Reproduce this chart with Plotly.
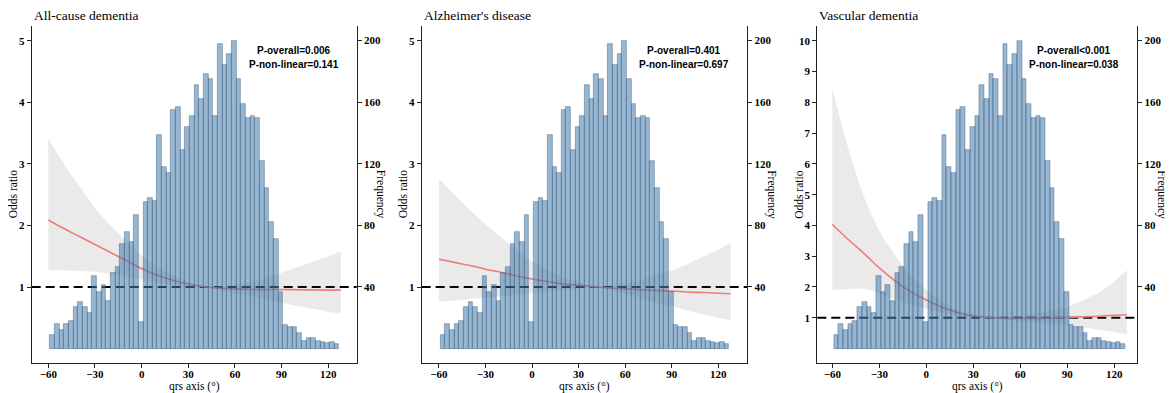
import plotly.graph_objects as go

# ---------------- data ----------------
# histogram of QRS axis (same distribution in all panels)
bin_centers = [-57.5, -54.5, -51.5, -48.5, -45.5, -42.5, -39.5, -36.5, -33.5, -30.5,
               -27.5, -24.5, -21.5, -18.5, -15.5, -12.5, -9.5, -6.5, -3.5, -0.5,
               2.5, 5.5, 8.5, 11.5, 14.5, 17.5, 20.5, 23.5, 26.5, 29.5,
               32.5, 35.5, 38.5, 41.5, 44.5, 47.5, 50.5, 53.5, 56.5, 59.5,
               62.5, 65.5, 68.5, 71.5, 74.5, 77.5, 80.5, 83.5, 86.5, 89.5,
               92.5, 95.5, 98.5, 101.5, 104.5, 107.5, 110.5, 113.5, 116.5, 119.5,
               122.5, 125.5]
frequency = [9, 16, 12, 16, 18, 27, 30, 27, 23, 47,
             37, 41, 31, 49, 53, 68, 76, 69, 87, 17,
             95, 98, 96, 139, 118, 114, 155, 157, 129, 144,
             151, 171, 162, 178, 175, 151, 198, 184, 191, 200,
             175, 159, 150, 151, 150, 122, 104, 82, 71, 37,
             15, 14, 14, 10, 5, 7, 7, 5, 4, 3.5,
             4, 3]

# restricted cubic spline estimates (odds ratio and 95% CI)
qrs_grid = [-60, -50, -40, -30, -20, -10, 0, 10, 20, 30, 42, 50, 60, 70, 80, 90, 100, 110, 120, 128]

or_allcause = [2.09, 1.95, 1.82, 1.69, 1.56, 1.43, 1.30, 1.19, 1.11, 1.05, 1.00, 0.98, 0.97, 0.96, 0.96, 0.96, 0.955, 0.953, 0.95, 0.95]
lo_allcause = [1.28, 1.27, 1.26, 1.25, 1.21, 1.17, 1.12, 1.07, 1.03, 1.01, 1.00, 0.95, 0.90, 0.85, 0.80, 0.75, 0.69, 0.65, 0.60, 0.57]
hi_allcause = [3.41, 3.00, 2.64, 2.28, 2.00, 1.75, 1.51, 1.33, 1.19, 1.09, 1.00, 1.01, 1.04, 1.08, 1.15, 1.23, 1.32, 1.41, 1.50, 1.58]

or_ad = [1.45, 1.40, 1.35, 1.29, 1.24, 1.18, 1.13, 1.09, 1.05, 1.03, 1.00, 0.985, 0.97, 0.955, 0.945, 0.935, 0.92, 0.91, 0.90, 0.89]
lo_ad = [0.76, 0.78, 0.81, 0.82, 0.85, 0.87, 0.90, 0.93, 0.95, 0.98, 1.00, 0.946, 0.89, 0.82, 0.75, 0.69, 0.62, 0.56, 0.50, 0.46]
hi_ad = [2.76, 2.50, 2.25, 2.02, 1.81, 1.59, 1.42, 1.28, 1.16, 1.08, 1.00, 1.025, 1.06, 1.11, 1.19, 1.27, 1.37, 1.49, 1.61, 1.72]

or_vd = [4.03, 3.55, 3.10, 2.62, 2.20, 1.85, 1.58, 1.34, 1.17, 1.06, 1.00, 0.98, 0.975, 0.98, 0.99, 1.01, 1.03, 1.05, 1.08, 1.10]
lo_vd = [1.92, 1.93, 1.94, 1.79, 1.60, 1.43, 1.29, 1.17, 1.07, 1.02, 1.00, 0.94, 0.89, 0.84, 0.79, 0.75, 0.68, 0.61, 0.54, 0.47]
hi_vd = [8.45, 6.53, 4.96, 3.83, 3.03, 2.40, 1.93, 1.54, 1.28, 1.10, 1.00, 1.02, 1.07, 1.14, 1.23, 1.36, 1.57, 1.82, 2.18, 2.55]

titles = ["All-cause dementia", "Alzheimer's disease", "Vascular dementia"]
p_overall = ["P-overall=0.006", "P-overall=0.401", "P-overall<0.001"]
p_nonlinear = ["P-non-linear=0.141", "P-non-linear=0.697", "P-non-linear=0.038"]

x_ticks = [-60, -30, 0, 30, 60, 90, 120]
or_ticks = [[1, 2, 3, 4, 5], [1, 2, 3, 4, 5], [1, 2, 3, 4, 5, 6, 7, 8, 9, 10]]
freq_ticks = [40, 80, 120, 160, 200]

# ---------------- layout geometry (pixels of the 1173x393 page) ----------------
PAGE_W, PAGE_H = 1173, 393
OFF = 8  # page body margin
W, H = PAGE_W - OFF, PAGE_H - OFF
panel_px = [(31.7, 356.7), (421.7, 747.3), (817.3, 1137.3)]
x_ranges = [[-70.7, 138.3], [-71.1, 138.7], [-69.6, 134.7]]
or_ranges = [[-0.234, 5.24], [-0.234, 5.24], [-0.47, 10.48]]
freq_range = [-9.4, 209.5]
top_px, bot_px = 26, 363


def xp(px):
    return (px - OFF) / W


def yp(py):
    return 1 - (py - OFF) / H


serif = "Liberation Serif"
sans = "Liberation Sans"

series = [(or_allcause, lo_allcause, hi_allcause),
          (or_ad, lo_ad, hi_ad),
          (or_vd, lo_vd, hi_vd)]

fig = go.Figure()
layout = {}
annotations = []
shapes = []

for i in range(3):
    xa = "x" if i == 0 else f"x{i + 1}"
    ya = "y" if i == 0 else f"y{i + 1}"
    yf = f"y{i + 4}"
    orv, lo, hi = series[i]

    fig.add_trace(go.Scatter(x=qrs_grid, y=lo, xaxis=xa, yaxis=ya, mode="lines",
                             line=dict(width=0, shape="spline", smoothing=1),
                             hoverinfo="skip", showlegend=False))
    fig.add_trace(go.Scatter(x=qrs_grid, y=hi, xaxis=xa, yaxis=ya, mode="lines",
                             line=dict(width=0, shape="spline", smoothing=1),
                             fill="tonexty", fillcolor="rgba(60,60,60,0.11)",
                             hoverinfo="skip", showlegend=False))
    fig.add_trace(go.Scatter(x=qrs_grid, y=orv, xaxis=xa, yaxis=ya, mode="lines",
                             line=dict(color="#F07C78", width=1.6, shape="spline", smoothing=1),
                             showlegend=False))
    fig.add_trace(go.Bar(x=bin_centers, y=frequency, width=3, xaxis=xa, yaxis=yf,
                         marker=dict(color="rgba(70,125,175,0.56)",
                                     line=dict(color="rgba(55,85,115,0.6)", width=0.7)),
                         showlegend=False))

    x0, x1 = panel_px[i]
    dom = [xp(x0), xp(x1)]
    axis_font = dict(family=serif, size=11, color="black", weight="bold")
    common = dict(showgrid=False, zeroline=False, showline=True, linecolor="#222",
                  linewidth=1, ticks="outside", ticklen=4, tickwidth=1, tickcolor="#222",
                  tickfont=axis_font, fixedrange=True)
    layout["xaxis" if i == 0 else f"xaxis{i + 1}"] = dict(
        domain=dom, range=x_ranges[i], anchor=ya, tickvals=x_ticks,
        ticklabelstandoff=-3, **common)
    layout["yaxis" if i == 0 else f"yaxis{i + 1}"] = dict(
        domain=[yp(bot_px), yp(top_px)], range=or_ranges[i], anchor=xa,
        tickvals=or_ticks[i], **common)
    layout[f"yaxis{i + 4}"] = dict(
        range=freq_range, overlaying=ya, side="right", anchor=xa,
        tickvals=freq_ticks, **common)

    shapes.append(dict(type="line", xref=f"{xa} domain", x0=0, x1=1, yref=ya, y0=1, y1=1,
                       layer="below", line=dict(color="black", width=2, dash="9px,5px")))

    cx = (x0 + x1) / 2
    annotations += [
        dict(text=titles[i], x=xp(x0), y=yp(15), xanchor="left", yanchor="middle",
             font=dict(family=serif, size=13.5, color="black")),
        dict(text="qrs axis (°)", x=xp(cx), y=yp(386), xanchor="center", yanchor="middle",
             font=dict(family=serif, size=11.5, color="black")),
        dict(text="Odds ratio", x=xp(x0 - 19), y=yp(194.5), xanchor="center", yanchor="middle",
             textangle=-90, font=dict(family=serif, size=11.5, color="black")),
        dict(text="Frequency", x=xp(x1 + 24), y=yp(194.5), xanchor="center", yanchor="middle",
             textangle=90, font=dict(family=serif, size=11.5, color="black")),
        dict(text=p_overall[i], x=xp(x1 - 63), y=yp(50), xanchor="center", yanchor="middle",
             font=dict(family=sans, size=10, color="black", weight="bold")),
        dict(text=p_nonlinear[i], x=xp(x1 - 63), y=yp(64), xanchor="center", yanchor="middle",
             font=dict(family=sans, size=10, color="black", weight="bold")),
    ]

for a in annotations:
    a.update(xref="paper", yref="paper", showarrow=False)

fig.update_layout(**layout)
fig.update_layout(width=W, height=H, margin=dict(l=0, r=0, t=0, b=0),
                  paper_bgcolor="white", plot_bgcolor="white",
                  barmode="overlay", bargap=0,
                  annotations=annotations, shapes=shapes, showlegend=False)

fig.write_html("out.html")
